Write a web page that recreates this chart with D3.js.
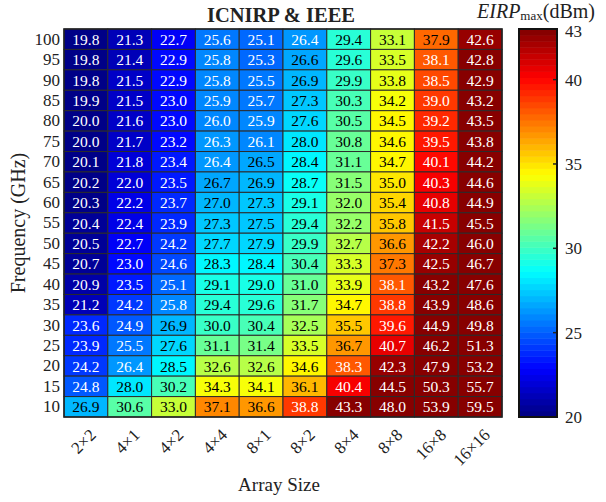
<!DOCTYPE html>
<html>
<head>
<meta charset="utf-8">
<script src="https://cdn.jsdelivr.net/npm/d3@7"></script>
<style>
  body { margin: 0; background: #fff; }
  text { font-family: "Liberation Serif", "Times New Roman", serif; fill: #222; }
</style>
</head>
<body>
<div id="chart"></div>
<script>
// Data: EIRP_max (dBm) per array size, frequency 100 -> 10 GHz
let arraySizes = ['2×2', '4×1', '4×2', '4×4', '8×1', '8×2', '8×4', '8×8', '16×8', '16×16']
let frequencies = [100, 95, 90, 85, 80, 75, 70, 65, 60, 55, 50, 45, 40, 35, 30, 25, 20, 15, 10]

let eirp2x2 = [19.8, 19.8, 19.8, 19.9, 20.0, 20.0, 20.1, 20.2, 20.3, 20.4, 20.5, 20.7, 20.9, 21.2, 23.6, 23.9, 24.2, 24.8, 26.9]
let eirp4x1 = [21.3, 21.4, 21.5, 21.5, 21.6, 21.7, 21.8, 22.0, 22.2, 22.4, 22.7, 23.0, 23.5, 24.2, 24.9, 25.5, 26.4, 28.0, 30.6]
let eirp4x2 = [22.7, 22.9, 22.9, 23.0, 23.0, 23.2, 23.4, 23.5, 23.7, 23.9, 24.2, 24.6, 25.1, 25.8, 26.9, 27.6, 28.5, 30.2, 33.0]
let eirp4x4 = [25.6, 25.8, 25.8, 25.9, 26.0, 26.3, 26.4, 26.7, 27.0, 27.3, 27.7, 28.3, 29.1, 29.4, 30.0, 31.1, 32.6, 34.3, 37.1]
let eirp8x1 = [25.1, 25.3, 25.5, 25.7, 25.9, 26.1, 26.5, 26.9, 27.3, 27.5, 27.9, 28.4, 29.0, 29.6, 30.4, 31.4, 32.6, 34.1, 36.6]
let eirp8x2 = [26.4, 26.6, 26.9, 27.3, 27.6, 28.0, 28.4, 28.7, 29.1, 29.4, 29.9, 30.4, 31.0, 31.7, 32.5, 33.5, 34.6, 36.1, 38.8]
let eirp8x4 = [29.4, 29.6, 29.9, 30.3, 30.5, 30.8, 31.1, 31.5, 32.0, 32.2, 32.7, 33.3, 33.9, 34.7, 35.5, 36.7, 38.3, 40.4, 43.3]
let eirp8x8 = [33.1, 33.5, 33.8, 34.2, 34.5, 34.6, 34.7, 35.0, 35.4, 35.8, 36.6, 37.3, 38.1, 38.8, 39.6, 40.7, 42.3, 44.5, 48.0]
let eirp16x8 = [37.9, 38.1, 38.5, 39.0, 39.2, 39.5, 40.1, 40.3, 40.8, 41.5, 42.2, 42.5, 43.2, 43.9, 44.9, 46.2, 47.9, 50.3, 53.9]
let eirp16x16 = [42.6, 42.8, 42.9, 43.2, 43.5, 43.8, 44.2, 44.6, 44.9, 45.5, 46.0, 46.7, 47.6, 48.6, 49.8, 51.3, 53.2, 55.7, 59.5]

let columns = [eirp2x2, eirp4x1, eirp4x2, eirp4x4, eirp8x1, eirp8x2, eirp8x4, eirp8x8, eirp16x8, eirp16x16]
let colorDomain = [20, 43]
let colorTicks = [20, 25, 30, 35, 40, 43]

let svgWidth = 606
let svgHeight = 502
let margin = { top: 29, right: 104, bottom: 85, left: 64 }
let chartWidth = svgWidth - margin.left - margin.right
let chartHeight = svgHeight - margin.top - margin.bottom

let svg = d3.select('#chart')
    .append('svg')
    .attr('width', svgWidth)
    .attr('height', svgHeight)

let chartGroup = svg.append('g')
    .attr('transform', `translate(${margin.left}, ${margin.top})`)

// MATLAB-like jet, 64 levels
let nLevels = 64
const jet = t => {
    let c = v => Math.round(255 * Math.max(0, Math.min(1, v)))
    return `rgb(${c(1.5 - Math.abs(4 * t - 3))},${c(1.5 - Math.abs(4 * t - 2))},${c(1.5 - Math.abs(4 * t - 1))})`
}
let levelScale = d3.scaleQuantize().domain(colorDomain).range(d3.range(nLevels))
const level = v => levelScale(Math.max(colorDomain[0], Math.min(colorDomain[1], v)))
const colorOf = v => jet((level(v) + 0.5) / nLevels)

let xScale = d3.scaleBand().domain(arraySizes).range([0, chartWidth])
let yScale = d3.scaleBand().domain(frequencies).range([0, chartHeight])

let cells = []
arraySizes.forEach((a, i) => {
    frequencies.forEach((f, j) => cells.push({ size: a, freq: f, value: columns[i][j] }))
})

let cell = chartGroup.selectAll('g.cell')
    .data(cells)
    .enter()
    .append('g')
    .classed('cell', true)

cell.append('rect')
    .attr('x', d => xScale(d.size))
    .attr('y', d => yScale(d.freq))
    .attr('width', xScale.bandwidth())
    .attr('height', yScale.bandwidth())
    .attr('fill', d => colorOf(d.value))
    .attr('stroke', '#2b2b2b')
    .attr('stroke-width', 1)

cell.append('text')
    .attr('x', d => xScale(d.size) + xScale.bandwidth() / 2)
    .attr('y', d => yScale(d.freq) + yScale.bandwidth() / 2)
    .attr('dy', '0.36em')
    .attr('text-anchor', 'middle')
    .attr('font-size', 15.5)
    .style('fill', d => (level(d.value) <= 17 || level(d.value) >= 50) ? '#fff' : '#000')
    .text(d => d.value.toFixed(1))

chartGroup.append('rect')
    .attr('width', chartWidth)
    .attr('height', chartHeight)
    .attr('fill', 'none')
    .attr('stroke', '#222')
    .attr('stroke-width', 1.5)

// y axis
let yAxis = chartGroup.append('g')
    .call(d3.axisLeft(yScale).tickSize(0).tickPadding(4))
yAxis.select('.domain').remove()
yAxis.selectAll('text')
    .attr('font-size', 17)
    .style('font-family', '"Liberation Serif", serif')
    .style('fill', '#222')

// x axis, rotated labels
let xAxis = chartGroup.append('g')
    .attr('transform', `translate(0, ${chartHeight})`)
    .call(d3.axisBottom(xScale).tickSize(0))
xAxis.select('.domain').remove()
xAxis.selectAll('text')
    .attr('font-size', 17)
    .style('font-family', '"Liberation Serif", serif')
    .style('fill', '#222')
    .attr('text-anchor', 'end')
    .attr('transform', 'translate(11, 19) rotate(-45)')
    .attr('dy', 0)
    .attr('y', 0)

// axis titles
svg.append('text')
    .attr('x', 279)
    .attr('y', 491)
    .attr('text-anchor', 'middle')
    .attr('font-size', 19)
    .text('Array Size')

svg.append('text')
    .attr('transform', `translate(25, ${margin.top + chartHeight / 2}) rotate(-90)`)
    .attr('text-anchor', 'middle')
    .attr('font-size', 20)
    .text('Frequency (GHz)')

svg.append('text')
    .attr('x', 281)
    .attr('y', 22)
    .attr('text-anchor', 'middle')
    .attr('font-size', 20.5)
    .attr('font-weight', 'bold')
    .text('ICNIRP & IEEE')

// colorbar
let cbX = 519, cbWidth = 38
let cbScale = d3.scaleLinear().domain(colorDomain).range([margin.top + chartHeight, margin.top])
let cbStep = (colorDomain[1] - colorDomain[0]) / nLevels
let cb = svg.append('g')

cb.selectAll('rect.level')
    .data(d3.range(nLevels))
    .enter()
    .append('rect')
    .classed('level', true)
    .attr('x', cbX)
    .attr('y', i => cbScale(colorDomain[0] + (i + 1) * cbStep))
    .attr('width', cbWidth)
    .attr('height', i => cbScale(colorDomain[0] + i * cbStep) - cbScale(colorDomain[0] + (i + 1) * cbStep) + 0.5)
    .attr('fill', i => jet((i + 0.5) / nLevels))

cb.selectAll('line.tick')
    .data(colorTicks.filter(t => t > colorDomain[0] && t < colorDomain[1]))
    .enter()
    .append('line')
    .attr('x1', cbX + cbWidth - 4)
    .attr('x2', cbX + cbWidth)
    .attr('y1', d => cbScale(d))
    .attr('y2', d => cbScale(d))
    .attr('stroke', '#222')
    .attr('stroke-width', 1.5)

cb.append('rect')
    .attr('x', cbX)
    .attr('y', margin.top)
    .attr('width', cbWidth)
    .attr('height', chartHeight)
    .attr('fill', 'none')
    .attr('stroke', '#111')
    .attr('stroke-width', 2)

cb.selectAll('text.cbLabel')
    .data(colorTicks)
    .enter()
    .append('text')
    .attr('x', cbX + cbWidth + 8)
    .attr('y', d => cbScale(d) + (d === colorDomain[1] ? 2 : 0))
    .attr('dy', '0.35em')
    .attr('font-size', 17)
    .text(d => d)

let cbTitle = svg.append('text')
    .attr('x', 536)
    .attr('y', 18)
    .attr('text-anchor', 'middle')
    .attr('font-size', 20)
cbTitle.append('tspan').attr('font-style', 'italic').text('EIRP')
cbTitle.append('tspan').attr('font-size', 13).attr('dy', 2).text('max')
cbTitle.append('tspan').attr('dy', -2).text('(dBm)')
</script>
</body>
</html>
